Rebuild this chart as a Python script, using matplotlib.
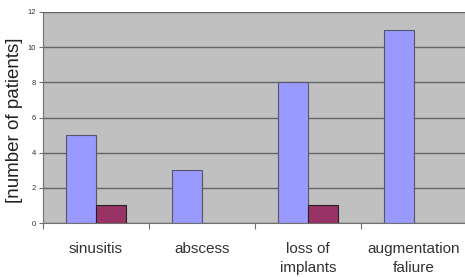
import matplotlib
matplotlib.use("Agg")
import matplotlib.pyplot as plt
import numpy as np

plt.rcParams['font.family'] = ['Liberation Sans', 'DejaVu Sans']

categories = ["sinusitis", "abscess", "loss of\nimplants", "augmentation\nfaliure"]
series_a = [5, 3, 8, 11]
series_b = [1, 0, 1, 0]
y_ticks = [0, 2, 4, 6, 8, 10, 12]

fig = plt.figure(figsize=(4.65, 2.77), dpi=100)
ax = fig.add_axes([43 / 465, 1 - 223 / 277, 424 / 465, 211 / 277])
ax.set_facecolor("#c0c0c0")

x = np.arange(len(categories))
w = 0.28
ax.bar(x - w / 2, series_a, w, color="#9999ff", edgecolor="#555566", linewidth=0.8, zorder=3)
b_vals = [v if v > 0 else np.nan for v in series_b]
ax.bar(x + w / 2, b_vals, w, color="#993366", edgecolor="#222222", linewidth=0.8, zorder=3)

ax.set_xlim(-0.5, len(categories) - 0.5)
ax.set_ylim(0, 12)
ax.set_yticks(y_ticks)
ax.set_yticklabels([str(t) for t in y_ticks], fontsize=5.5, color="#333333")
ax.yaxis.grid(True, color="#666666", linewidth=1.0, zorder=1)
ax.set_axisbelow(True)

ax.set_xticks(np.arange(len(categories) + 1) - 0.5)
ax.set_xticklabels([])
ax.set_xticks(x, minor=True)
ax.set_xticklabels(categories, minor=True, fontsize=11, color="#333333", linespacing=1.4)
ax.tick_params(axis="x", which="minor", length=0, pad=14)
ax.tick_params(axis="x", which="major", length=4, color="#707070", direction="out")
ax.tick_params(axis="y", length=3, color="#707070", pad=2)

for s in ["top", "right"]:
    ax.spines[s].set_visible(False)
ax.spines["left"].set_color("#707070")
ax.spines["bottom"].set_color("#707070")

fig.text(15 / 465, 1 - 120 / 277, "[number of patients]", rotation=90, fontsize=13.5,
         color="#222222", ha="center", va="center")

fig.savefig("out.png", dpi=100)
